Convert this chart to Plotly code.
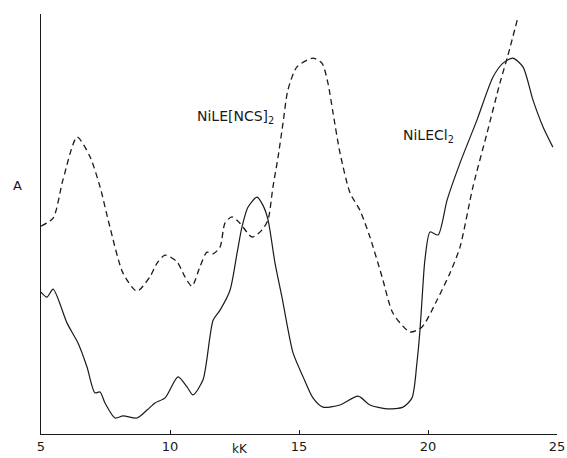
import plotly.graph_objects as go

# NiLE[NCS]2 (dashed)
ncs_x = [5.00, 5.47, 5.85, 6.40, 6.90, 7.29, 7.67, 8.18, 8.72, 9.22, 9.50, 9.81, 10.27, 10.58,
         10.85, 11.16, 11.43, 11.67, 11.94, 12.13, 12.40, 12.71, 13.18, 13.57, 13.80, 13.99,
         14.19, 14.38, 14.57, 14.92, 15.54, 15.89, 16.12, 16.32, 16.59, 16.98, 17.36, 17.75,
         18.22, 18.64, 19.30, 19.77, 20.35, 20.85, 21.24, 21.74, 22.29, 22.79, 23.10, 23.49]
ncs_y = [49.5, 51.4, 60.5, 70.7, 66.0, 58.8, 49.3, 38.3, 34.0, 37.4, 40.7, 42.6, 41.0, 37.4,
         35.2, 39.8, 43.3, 42.9, 44.5, 50.2, 51.7, 50.2, 46.9, 48.6, 51.0, 58.8,
         66.0, 74.0, 81.9, 87.4, 89.5, 88.3, 83.6, 76.4, 66.9, 57.4, 53.3, 46.9,
         37.4, 28.8, 24.3, 25.5, 31.9, 38.3, 44.5, 58.8, 71.7, 83.6, 90.2, 99.3]

# NiLECl2 (solid)
cl_x = [5.00, 5.23, 5.47, 6.01, 6.43, 6.78, 7.09, 7.29, 7.48, 7.87, 8.18, 8.72, 9.11, 9.42,
        9.81, 10.31, 10.66, 10.89, 11.28, 11.67, 11.94, 12.33, 12.60, 12.79, 13.02, 13.37,
        13.60, 13.80, 14.07, 14.34, 14.77, 15.16, 15.54, 15.93, 16.59, 17.29, 17.75, 18.41,
        19.03, 19.38, 19.57, 19.69, 19.81, 19.88, 20.08, 20.39, 20.74, 21.24, 21.90, 22.52,
        22.91, 23.29, 23.68, 24.07, 24.46, 24.84]
cl_y = [33.8, 32.6, 34.5, 26.4, 21.7, 16.0, 9.8, 10.0, 7.4, 3.8, 4.3, 3.8, 5.7, 7.4,
        8.6, 13.6, 11.2, 9.3, 12.9, 27.1, 29.5, 34.3, 43.1, 49.3, 54.0, 56.4,
        54.5, 51.0, 40.7, 32.6, 19.3, 13.6, 8.6, 6.4, 6.9, 9.0, 6.9, 6.0,
        6.4, 8.6, 16.9, 24.8, 36.0, 41.4, 48.1, 47.4, 55.7, 64.5, 74.8, 85.0,
        88.3, 89.5, 87.4, 79.5, 73.1, 68.3]

x_ticks = [5, 10, 15, 20, 25]

FONT = "DejaVu Sans, Liberation Sans, sans-serif"
INK = "#1a1a1a"

W, H = 567, 458
L, R, T, B = 41, 10, 14, 24
PW, PH = W - L - R, H - T - B


def px_to_paper(px, py):
    return (px - L) / PW, (H - B - py) / PH


fig = go.Figure()
fig.add_trace(go.Scatter(x=ncs_x, y=ncs_y, mode="lines",
                         line=dict(color=INK, width=1.3, dash="6px,4px", shape="spline", smoothing=0.7),
                         hoverinfo="skip"))
fig.add_trace(go.Scatter(x=cl_x, y=cl_y, mode="lines",
                         line=dict(color=INK, width=1.2, shape="spline", smoothing=0.7),
                         hoverinfo="skip"))

ax_a = px_to_paper(17, 185)
ax_k = px_to_paper(240, 458)

fig.update_layout(
    width=W, height=H,
    margin=dict(l=L, r=R, t=T, b=B, autoexpand=False),
    paper_bgcolor="white", plot_bgcolor="white",
    showlegend=False,
    hovermode=False,
    font=dict(family=FONT, color=INK),
    xaxis=dict(range=[5, 25], showgrid=False, zeroline=False, showline=True,
               linecolor=INK, linewidth=1.2, ticks="inside", ticklen=4,
               tickcolor=INK, tickvals=x_ticks, ticktext=[str(t) for t in x_ticks],
               tickfont=dict(size=13, family=FONT, color=INK)),
    yaxis=dict(range=[0, 100], showgrid=False, zeroline=False, showline=True,
               linecolor=INK, linewidth=1.2, showticklabels=False, ticks=""),
    annotations=[
        dict(x=10.97, y=75.5, xref="x", yref="y", xanchor="left", yanchor="middle",
             text="NiLE[NCS]<sub>2</sub>", showarrow=False,
             font=dict(size=14, family=FONT, color=INK)),
        dict(x=18.95, y=71.0, xref="x", yref="y", xanchor="left", yanchor="middle",
             text="NiLECl<sub>2</sub>", showarrow=False,
             font=dict(size=14, family=FONT, color=INK)),
        dict(x=ax_a[0], y=ax_a[1], xref="paper", yref="paper", text="A", showarrow=False,
             xanchor="center", yanchor="middle",
             font=dict(size=13, family=FONT, color=INK)),
        dict(x=ax_k[0], y=ax_k[1], xref="paper", yref="paper", text="kK",
             showarrow=False, xanchor="center", yanchor="bottom",
             font=dict(size=12, family=FONT, color=INK)),
    ],
)

fig.write_html(
    "out.html",
    config={"displayModeBar": False, "staticPlot": True},
    post_script=(
        "document.documentElement.style.margin='0';"
        "document.body.style.margin='0';"
        "document.documentElement.style.overflow='hidden';"
        "document.body.style.overflow='hidden';"
    ),
)
